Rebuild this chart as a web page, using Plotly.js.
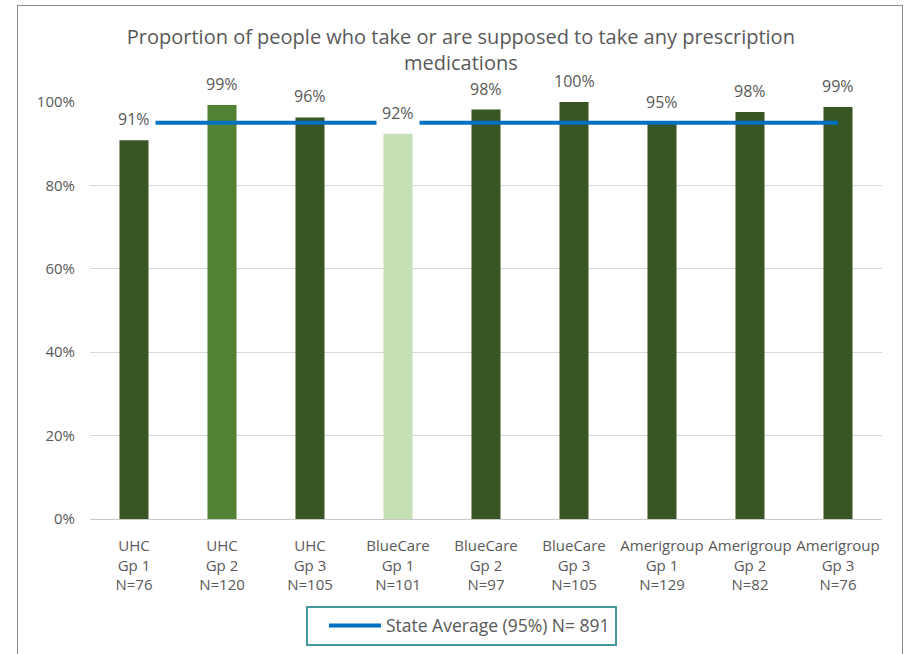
<!DOCTYPE html>
<html>
<head>
<meta charset="utf-8">
<script src="https://cdn.plot.ly/plotly-3.0.1.min.js"></script>
<style>
  html, body { margin: 0; padding: 0; background: #ffffff; }
  #wrap { position: relative; width: 909px; height: 654px; overflow: hidden; }
  #chart { width: 909px; height: 654px; }
  #frame { position: absolute; left: 17px; top: 5px; width: 886px; height: 700px;
           border: 1px solid #8a8a8a; pointer-events: none; box-sizing: border-box; }
</style>
</head>
<body>
<div id="wrap">
  <div id="chart"></div>
  <div id="frame"></div>
</div>
<script>
// ---- Data ----
const plans  = ["UHC", "UHC", "UHC", "BlueCare", "BlueCare", "BlueCare", "Amerigroup", "Amerigroup", "Amerigroup"];
const groups = ["Gp 1", "Gp 2", "Gp 3", "Gp 1", "Gp 2", "Gp 3", "Gp 1", "Gp 2", "Gp 3"];
const sampleSizes = [76, 120, 105, 101, 97, 105, 129, 82, 76];
const percentages = [90.8, 99.3, 96.3, 92.4, 98.2, 100, 94.9, 97.6, 98.8];
const stateAverage = [95, 95, 95, 95, 95, 95, 95, 95, 95];
const stateAverageName = "State Average (95%) N= 891";
const barColors = ["#375623", "#548235", "#375623", "#C5E0B4", "#375623", "#375623", "#375623", "#375623", "#375623"];

const categories = plans.map((p, i) => p + "<br>" + groups[i] + "<br>N=" + sampleSizes[i]);
const dataLabels = percentages.map(v => Math.round(v) + "%");

const FONT = "Open Sans, Lato, sans-serif";
const GREY = "#595959";

const traces = [
  {
    type: "bar",
    x: categories,
    y: percentages,
    marker: { color: barColors },
    showlegend: false,
    hoverinfo: "x+y"
  },
  {
    type: "scatter",
    mode: "lines",
    x: categories,
    y: stateAverage,
    name: stateAverageName,
    line: { color: "#0070C0", width: 4 }
  }
];

const annotations = categories.map((c, i) => ({
  x: c,
  y: percentages[i],
  xref: "x",
  yref: "y",
  text: dataLabels[i],
  showarrow: false,
  yanchor: "bottom",
  xanchor: "center",
  yshift: 4,
  bgcolor: "#ffffff",
  borderpad: 5,
  font: { family: FONT, size: 16, color: GREY }
}));

const layout = {
  width: 909,
  height: 654,
  paper_bgcolor: "#ffffff",
  plot_bgcolor: "#ffffff",
  margin: { l: 90, r: 27, t: 102, b: 135, autoexpand: false },
  font: { family: FONT, color: GREY },
  title: {
    text: "Proportion of people who take or are supposed to take any prescription<br>medications",
    font: { family: FONT, size: 20, color: GREY },
    x: 0.507,
    xref: "container",
    xanchor: "center",
    y: 0.933,
    yref: "container",
    yanchor: "top"
  },
  bargap: 0.67,
  xaxis: {
    type: "category",
    showgrid: false,
    showline: false,
    ticks: "",
    automargin: false,
    ticklabelstandoff: 16,
    tickfont: { family: FONT, size: 15, color: GREY }
  },
  yaxis: {
    range: [0, 100],
    dtick: 20,
    ticksuffix: "%",
    showgrid: true,
    gridcolor: "#d9d9d9",
    gridwidth: 1,
    zeroline: true,
    zerolinecolor: "#c8c8c8",
    zerolinewidth: 1,
    showline: false,
    ticks: "",
    automargin: false,
    ticklabelstandoff: 14,
    tickfont: { family: FONT, size: 15, color: GREY }
  },
  showlegend: true,
  legend: {
    orientation: "h",
    x: 0.469,
    xanchor: "center",
    y: -0.208,
    yanchor: "top",
    bordercolor: "#45979D",
    borderwidth: 2,
    bgcolor: "#ffffff",
    font: { family: FONT, size: 17.5, color: GREY },
    itemwidth: 52,
    indentation: 16
  },
  annotations: annotations
};

Plotly.newPlot("chart", traces, layout, { displayModeBar: false, staticPlot: true });
</script>
</body>
</html>
